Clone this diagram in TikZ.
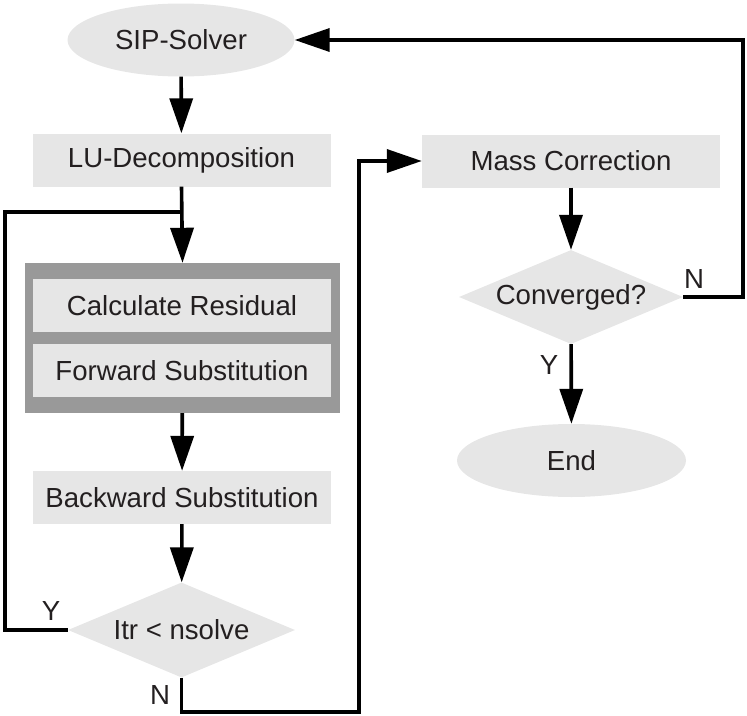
\documentclass[tikz,border=0pt]{standalone}
\usepackage{fontspec}
\setmainfont{Liberation Sans}
\usetikzlibrary{shapes.geometric,arrows.meta}
\definecolor{boxfill}{HTML}{E6E6E6}
\definecolor{outerfill}{HTML}{999999}
\definecolor{txt}{HTML}{231F20}
\tikzset{
  every node/.style={font=\fontsize{27.6}{32}\selectfont, text=txt, inner sep=0pt},
  procbox/.style={rectangle, fill=boxfill, minimum width=298pt, minimum height=53pt},
  termbox/.style={ellipse, fill=boxfill, minimum width=227pt, minimum height=73pt},
  decbox/.style={diamond, fill=boxfill, aspect=2.4},
  conn/.style={line width=3.6pt, draw=black},
  arr/.style={conn, -{Triangle[length=35pt,width=23pt]}},
  lbl/.style={font=\fontsize{27.6}{32}\selectfont, text=txt}
}
\begin{document}
\begin{tikzpicture}[x=1pt,y=-1pt]
\useasboundingbox (0,0) rectangle (747,715);
% nodes
\node[termbox] (sip) at (181,40) {SIP-Solver};
\node[procbox] (lu) at (181.5,160) {LU-Decomposition};
\node[rectangle, fill=outerfill, minimum width=315pt, minimum height=150pt] (outer) at (182.5,338) {};
\node[procbox] (cr) at (182,305.5) {Calculate Residual};
\node[procbox] (fs) at (182,370.5) {Forward Substitution};
\node[procbox] (bs) at (182,497.5) {Backward Substitution};
\node[decbox, minimum width=227pt, minimum height=95pt] (itr) at (181.5,630) {Itr < nsolve};
\node[procbox] (mc) at (571,161) {Mass Correction};
\node[decbox, minimum width=224pt, minimum height=94pt] (conv) at (571,297) {Converged?};
\node[termbox, minimum width=229pt] (endn) at (571.5,460.5) {End};
% coordinates
\coordinate (j) at (181.5,212);
\coordinate (c1) at (5,212);
\coordinate (c2) at (359,712);
\coordinate (c3) at (743,40);
% connectors
\draw[arr] (sip) -- (lu);
\draw[arr] (lu.south) -- (outer.north);
\draw[conn] (itr.west) -| (c1) -- (j);
\draw[arr] (outer) -- (bs);
\draw[arr] (bs) -- (itr);
\draw[arr] (itr.south) |- (c2) |- (mc.west);
\draw[arr] (mc) -- (conv);
\draw[arr] (conv.east) -| (c3) -- (sip.east);
\draw[arr] (conv) -- (endn);
% labels
\node[lbl] (ly1) at (51,611) {Y};
\node[lbl] (ln1) at (160,695) {N};
\node[lbl] (ln2) at (694,279) {N};
\node[lbl] (ly2) at (549,365) {Y};
\end{tikzpicture}
\end{document}
